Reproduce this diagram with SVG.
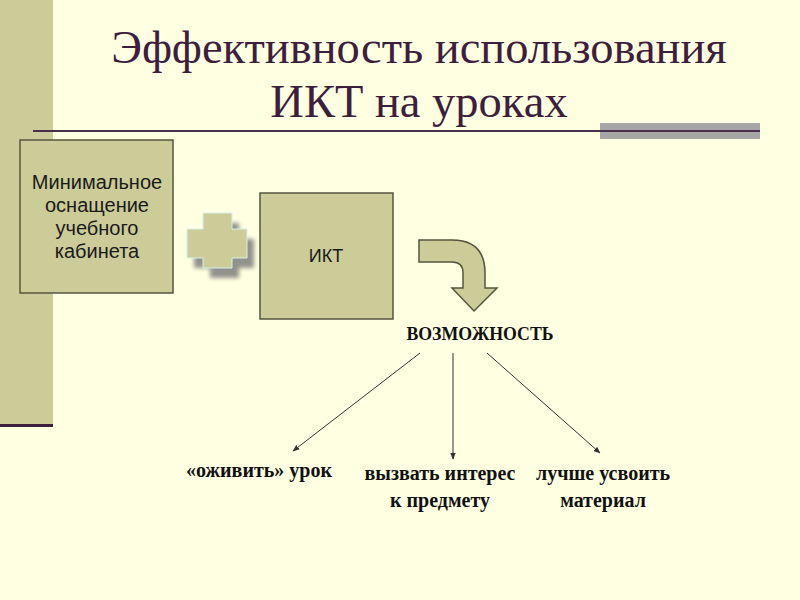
<svg xmlns="http://www.w3.org/2000/svg" width="800" height="600" viewBox="0 0 800 600">
<defs>
<style>
.box{fill:#CCCC99;stroke:#55553F;stroke-width:1.5}
.sans{font-family:"Liberation Sans",Arial,sans-serif;fill:#1a1a1a;text-anchor:middle}
.lbl{font-family:"Liberation Serif","Times New Roman",serif;font-weight:bold;font-size:20px;fill:#111;text-anchor:middle}
.title{font-family:"Liberation Serif","Times New Roman",serif;font-size:46.5px;fill:#3D1E3D;text-anchor:middle}
.conn{stroke:#333;stroke-width:1;fill:none;marker-end:url(#ah)}
</style>
<marker id="ah" viewBox="0 0 10 10" refX="9" refY="5" markerWidth="7" markerHeight="7" orient="auto" markerUnits="userSpaceOnUse">
<path d="M0,1 L10,5 L0,9 z" fill="#333"/>
</marker>
<filter id="sh" x="-30%" y="-30%" width="160%" height="160%">
<feGaussianBlur stdDeviation="2"/>
</filter>
</defs>
<rect width="800" height="600" fill="#FFFFE1"/>
<rect x="0" y="0" width="53" height="425" fill="#CCCC99"/>
<rect x="0" y="424" width="53" height="3" fill="#3D1E3D"/>
<rect x="600" y="123" width="160" height="16" fill="#A6A6A6"/>
<line x1="33" y1="131" x2="760" y2="131" stroke="#4B2E4B" stroke-width="2"/>
<g id="title">
<text class="title" x="419" y="63">Эффективность использования</text>
<text class="title" x="419" y="117">ИКТ на уроках</text>
</g>
<g id="node-equipment">
<rect class="box" x="20" y="140" width="153" height="153"/>
<text class="sans" font-size="20" x="97" y="189">Минимальное</text>
<text class="sans" font-size="20" x="97" y="212">оснащение</text>
<text class="sans" font-size="20" x="97" y="235">учебного</text>
<text class="sans" font-size="20" x="97" y="258">кабинета</text>
</g>
<g id="node-plus">
<path d="M203,213 H232 V229 H247 V258 H232 V268 H203 V258 H187 V229 H203 Z" transform="translate(7,10)" fill="#777" opacity="0.8" filter="url(#sh)"/>
<path d="M203,213 H232 V229 H247 V258 H232 V268 H203 V258 H187 V229 H203 Z" fill="#CCCC99" stroke="#D8F0E8" stroke-width="1"/>
</g>
<g id="node-ikt">
<rect class="box" x="260" y="193" width="133" height="126"/>
<text class="sans" font-size="18" x="326" y="262">ИКТ</text>
</g>
<g id="node-turn-arrow">
<path d="M419,240 H452 Q485,240 485,273 V288 H497 L474,311 L452,288 H463 V273 Q463,262 452,262 H419 Z" fill="#CCCC99" stroke="#55553F" stroke-width="1.5"/>
</g>
<g id="node-vozm">
<text class="lbl" style="font-size:17.8px" x="480" y="340">ВОЗМОЖНОСТЬ</text>
</g>
<g id="connectors">
<line class="conn" x1="420" y1="353" x2="293" y2="451"/>
<line class="conn" x1="453" y1="353" x2="453" y2="459"/>
<line class="conn" x1="487" y1="353" x2="600" y2="453"/>
</g>
<g id="node-ozhivit">
<text class="lbl" x="259" y="477">«оживить» урок</text>
</g>
<g id="node-interes">
<text class="lbl" x="440" y="480">вызвать интерес</text>
<text class="lbl" x="440" y="507">к предмету</text>
</g>
<g id="node-usvoit">
<text class="lbl" x="603" y="480">лучше усвоить</text>
<text class="lbl" x="603" y="507">материал</text>
</g>
</svg>
